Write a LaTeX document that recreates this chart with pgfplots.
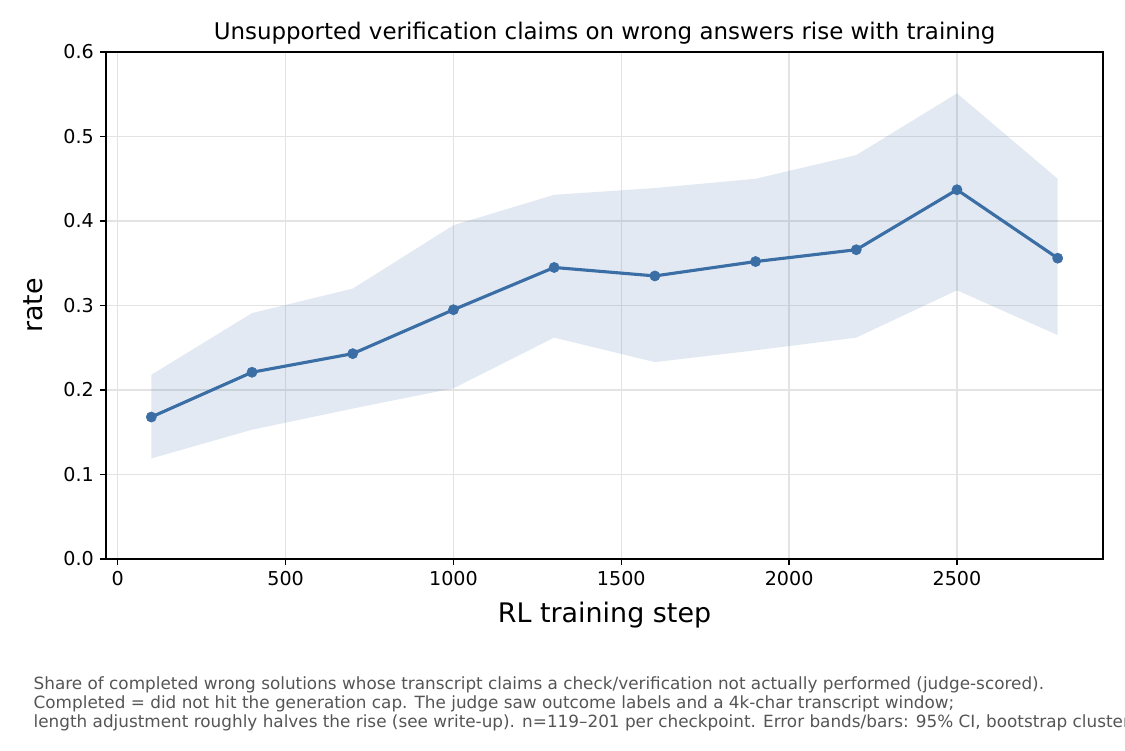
\documentclass[border=0pt]{standalone}
\usepackage{fontspec}
\setmainfont{DejaVu Sans}
\usepackage{pgfplots}
\usepackage{pgfplotstable}
\pgfplotsset{compat=1.18}
\usepgfplotslibrary{fillbetween}
\definecolor{mainblue}{HTML}{3A6EA5}
\definecolor{notegray}{HTML}{555555}

\pgfplotstableread{
step mean lo hi
100  0.168 0.119 0.218
400  0.221 0.153 0.291
700  0.243 0.178 0.320
1000 0.295 0.202 0.395
1300 0.345 0.262 0.431
1600 0.335 0.233 0.439
1900 0.352 0.247 0.450
2200 0.366 0.262 0.478
2500 0.437 0.318 0.551
2800 0.356 0.265 0.450
}\datatable

\begin{document}
\begin{tikzpicture}
\begin{axis}[
  at={(61.06pt,110.02pt)}, anchor=south west,
  scale only axis,
  width=574.27pt, height=292.03pt,
  xmin=-35, xmax=2935, ymin=0, ymax=0.6,
  xtick={0,500,1000,1500,2000,2500},
  ytick={0,0.1,0.2,0.3,0.4,0.5,0.6},
  /pgf/number format/assume math mode=true,
  xticklabel style={/pgf/number format/set thousands separator={}, font=\fontsize{11}{13}\selectfont},
  yticklabel style={/pgf/number format/fixed, /pgf/number format/fixed zerofill, /pgf/number format/precision=1, font=\fontsize{11}{13}\selectfont},
  tick align=outside, major tick length=3.5pt,
  tick style={black, line width=0.8pt},
  xtick pos=bottom, ytick pos=left,
  axis line style={black, line width=0.8pt},
  grid=major,
  major grid style={black!11, line width=0.8pt},
  xlabel={RL training step},
  ylabel={rate},
  label style={font=\fontsize{15.5}{18}\selectfont},
  xlabel style={anchor=base, at={(axis description cs:0.5,-0.1262)}},
  ylabel style={anchor=base, at={(axis description cs:-0.0632,0.5)}},
]
\addplot[name path=hi, draw=none, forget plot] table[x=step, y=hi] {\datatable};
\addplot[name path=lo, draw=none, forget plot] table[x=step, y=lo] {\datatable};
\addplot[mainblue, fill opacity=0.15, draw=none, forget plot] fill between[of=hi and lo];
\addplot[mainblue, line width=1.8pt, mark=*, mark size=2.95pt, mark options={solid, fill=mainblue, draw=mainblue, line width=0.3pt}] table[x=step, y=mean] {\datatable};
\end{axis}
\node[anchor=base, font=\fontsize{13.2}{15}\selectfont] at (348.2pt, 409.0pt) {Unsupported verification claims on wrong answers rise with training};
\begin{scope}
\clip (0,0) rectangle (648pt,60pt);
\begin{scope}[every node/.style={anchor=base west, font=\fontsize{9.7}{12}\selectfont, text=notegray, inner sep=0pt}]
\node at (19.2pt, 35.1pt) {Share of completed wrong solutions whose transcript claims a check/verification not actually performed (judge-scored).};
\node at (19.2pt, 23.8pt) {Completed = did not hit the generation cap. The judge saw outcome labels and a 4k-char transcript window;};
\node at (19.2pt, 12.8pt) {length adjustment roughly halves the rise (see write-up). n=119–201 per checkpoint. Error bands/bars: 95\% CI, bootstrap clustered by problem.};
\end{scope}
\end{scope}
\pgfresetboundingbox
\path[use as bounding box] (0,0) rectangle (648pt,432pt);
\end{tikzpicture}
\end{document}
